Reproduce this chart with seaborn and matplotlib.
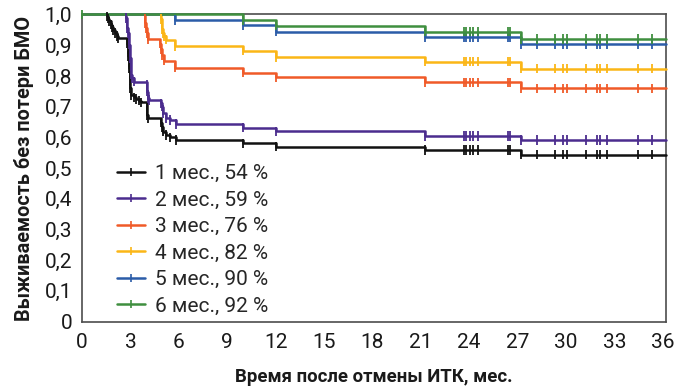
import matplotlib
matplotlib.use("Agg")
import matplotlib.pyplot as plt
import pandas as pd
import seaborn as sns
from matplotlib.lines import Line2D
from matplotlib.ticker import FuncFormatter, MultipleLocator

# Landmark cohorts: months on therapy before TKI discontinuation
groups = ["1 мес.", "2 мес.", "3 мес.", "4 мес.", "5 мес.", "6 мес."]
colors = ["#111111", "#4b2c8e", "#f05a28", "#fbb617", "#2b5ca8", "#3f8f3f"]

# Event times (months) and Kaplan-Meier survival after each event
t_1m = [1.52, 1.60, 1.70, 1.79, 1.87, 1.95, 2.05, 2.14, 2.22, 2.80, 2.84, 2.87,
        2.90, 2.93, 2.95, 2.97, 3.00, 3.03, 3.22, 3.37, 3.52, 3.68, 4.00, 4.03,
        4.06, 4.10, 4.91, 4.96, 5.02, 5.22, 5.43, 5.80, 9.95, 12.0, 21.25, 27.2]
s_1m = [0.994, 0.986, 0.978, 0.967, 0.958, 0.950, 0.940, 0.930, 0.922, 0.905,
        0.885, 0.865, 0.845, 0.825, 0.805, 0.785, 0.760, 0.737, 0.730, 0.725,
        0.719, 0.714, 0.700, 0.686, 0.673, 0.662, 0.648, 0.632, 0.618, 0.607,
        0.600, 0.591, 0.580, 0.569, 0.559, 0.543]

t_2m = [2.75, 2.78, 2.82, 2.86, 2.90, 2.93, 2.96, 2.99, 3.02, 3.05, 3.12, 3.22,
        4.00, 4.03, 4.06, 4.09, 4.12, 4.15, 4.91, 4.95, 4.99, 5.03, 5.22, 5.43,
        5.80, 9.95, 12.0, 21.25, 27.2]
s_2m = [0.989, 0.972, 0.956, 0.940, 0.924, 0.902, 0.880, 0.858, 0.831, 0.804,
        0.792, 0.781, 0.770, 0.760, 0.749, 0.738, 0.727, 0.722, 0.711, 0.700,
        0.689, 0.678, 0.662, 0.656, 0.643, 0.631, 0.620, 0.604, 0.591]

t_3m = [3.88, 3.93, 3.98, 4.03, 4.07, 4.12, 4.85, 4.92, 4.98, 5.06, 5.78, 9.95,
        12.0, 21.25, 27.2]
s_3m = [0.988, 0.972, 0.956, 0.940, 0.929, 0.920, 0.905, 0.886, 0.868, 0.850,
        0.827, 0.810, 0.795, 0.779, 0.760]

t_4m = [4.90, 4.93, 4.97, 5.01, 5.10, 5.20, 5.76, 9.95, 12.0, 21.25, 27.2]
s_4m = [0.985, 0.970, 0.952, 0.940, 0.929, 0.918, 0.897, 0.882, 0.862, 0.846, 0.823]

t_5m = [5.74, 9.95, 12.0, 21.25, 27.2]
s_5m = [0.982, 0.966, 0.944, 0.926, 0.904]

t_6m = [9.95, 12.0, 21.25, 27.2]
s_6m = [0.982, 0.9635, 0.944, 0.920]

# Censored observations shared by all cohorts after 21 months
censor_late = [23.65, 23.82, 24.02, 24.23, 24.54, 26.43, 26.55, 28.2, 29.33,
               29.82, 30.04, 31.24, 31.93, 32.08, 32.55, 34.44, 35.33]

x_ticks = list(range(0, 37, 3))
follow_up_end = 36.2

event_times = [t_1m, t_2m, t_3m, t_4m, t_5m, t_6m]
survival = [s_1m, s_2m, s_3m, s_4m, s_5m, s_6m]

# Long tables for the step curves and the censor marks
curve_rows, censor_rows = [], []
for g, ts, ss in zip(groups, event_times, survival):
    times = [0.0] + ts + [follow_up_end]
    vals = [1.0] + ss + [ss[-1]]
    for t, s in zip(times, vals):
        curve_rows.append({"group": g, "time": t, "surv": s})
    marks = list(ts) + censor_late
    if g == groups[-1]:
        marks = [0.0] + marks
    for m in marks:
        idx = max(i for i, t in enumerate(times) if t <= m)
        censor_rows.append({"group": g, "time": m, "surv": vals[idx]})
curves = pd.DataFrame(curve_rows)
censors = pd.DataFrame(censor_rows)
final = {g: ss[-1] for g, ss in zip(groups, survival)}

sns.set_style("white")
plt.rcParams["font.family"] = ["Roboto", "DejaVu Sans"]

fig = plt.figure(figsize=(6.75, 3.87), dpi=100)
ax = fig.add_axes([82 / 675, 1 - 321.5 / 387, 584 / 675, 307 / 387])

palette = dict(zip(groups, colors))
sns.lineplot(data=curves, x="time", y="surv", hue="group", palette=palette,
             estimator=None, sort=False, drawstyle="steps-post", linewidth=1.8,
             legend=False, ax=ax, clip_on=False, zorder=3)
sns.scatterplot(data=censors, x="time", y="surv", hue="group", palette=palette,
                marker="|", s=45, linewidth=1.3, legend=False, ax=ax,
                clip_on=False, zorder=4)

ax.set_xlim(0, follow_up_end)
ax.set_ylim(0, 1.0)
ax.set_xticks(x_ticks)
ax.yaxis.set_major_locator(MultipleLocator(0.1))
ax.yaxis.set_major_formatter(FuncFormatter(
    lambda v, p: "0" if abs(v) < 1e-9 else f"{v:.1f}".replace(".", ",")))
ax.tick_params(axis="both", length=0, labelsize=15, colors="#1a1a1a")
ax.tick_params(axis="x", pad=8)
ax.tick_params(axis="y", pad=7)
for sp in ax.spines.values():
    sp.set_visible(True)
    sp.set_color("#4d4d4d")
    sp.set_linewidth(1.2)

ax.set_xlabel("Время после отмены ИТК, мес.", fontsize=13.4, fontweight="bold",
              labelpad=12, color="#1a1a1a")
ax.set_ylabel("Выживаемость без потери БМО", fontsize=14.3, fontweight="bold",
              labelpad=8, color="#1a1a1a")

handles = [Line2D([], [], color=c, linewidth=1.8, marker="|", markersize=6,
                  markeredgewidth=1.2) for c in colors]
labels = [f"{g}, {round(final[g] * 100)} %" for g in groups]
ax.legend(handles, labels, loc="lower left", bbox_to_anchor=(0.06, 0.019),
          frameon=False, fontsize=15, handlelength=1.35, handletextpad=0.48,
          labelspacing=0.36, borderpad=0, borderaxespad=0)

fig.savefig("out.png", dpi=100)
